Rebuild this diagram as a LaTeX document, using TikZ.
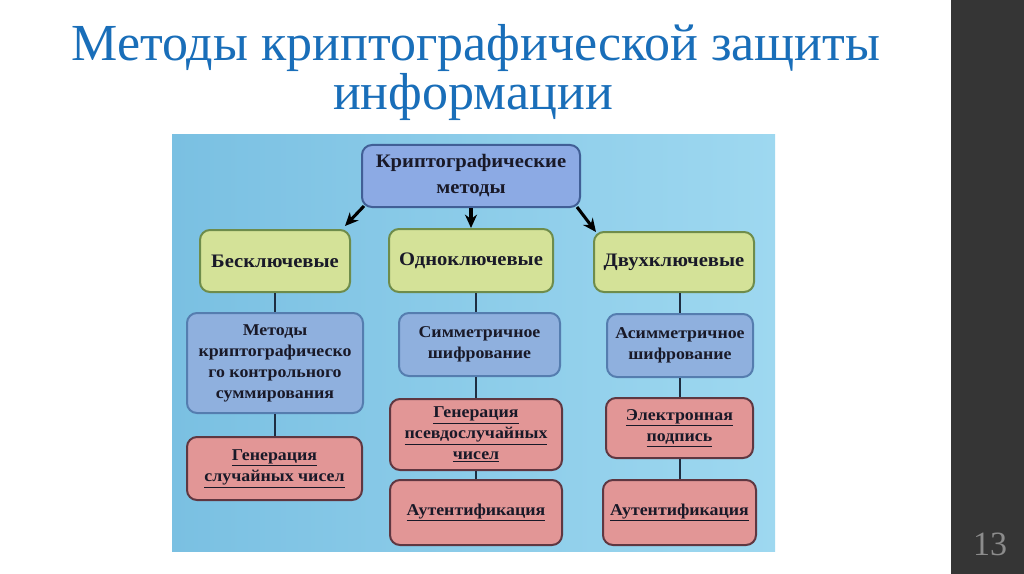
\documentclass[tikz,border=0pt]{standalone}
\usepackage{fontspec}
\setmainfont{Liberation Serif}
\newfontfamily\boxfont[FakeStretch=1.08]{Liberation Serif}
\usetikzlibrary{arrows.meta}
\definecolor{panelL}{RGB}{122,192,226}
\definecolor{panelR}{RGB}{158,216,240}
\definecolor{topfill}{RGB}{140,170,228}
\definecolor{topdraw}{RGB}{65,95,150}
\definecolor{greenfill}{RGB}{212,226,152}
\definecolor{greendraw}{RGB}{110,140,75}
\definecolor{bluefill}{RGB}{143,176,222}
\definecolor{bluedraw}{RGB}{85,125,175}
\definecolor{redfill}{RGB}{226,150,150}
\definecolor{reddraw}{RGB}{95,55,65}
\definecolor{textcol}{RGB}{25,25,40}
\definecolor{conncol}{RGB}{30,45,65}
\definecolor{titleblue}{RGB}{25,110,185}
\definecolor{barcol}{RGB}{53,53,53}
\definecolor{numgrey}{RGB}{140,140,140}
\begin{document}
\begin{tikzpicture}[x=0.75pt,y=-0.75pt,
  sz/.style 2 args={minimum width=#1*0.75pt, minimum height=#2*0.75pt},
  box/.style={draw, line width=1.5pt, rounded corners=7.5pt, inner sep=0pt,
    align=center, text=textcol},
  topbox/.style={box, fill=topfill, draw=topdraw,
    font={\boxfont\bfseries\fontsize{14.3pt}{19.5pt}\selectfont}},
  greenbox/.style={box, fill=greenfill, draw=greendraw,
    font={\boxfont\bfseries\fontsize{14.3pt}{19.5pt}\selectfont}},
  bluebox/.style={box, fill=bluefill, draw=bluedraw,
    font={\boxfont\bfseries\fontsize{12.4pt}{15.8pt}\selectfont}},
  redbox/.style={box, fill=redfill, draw=reddraw,
    font={\boxfont\bfseries\fontsize{12.4pt}{15.8pt}\selectfont}},
  conn/.style={draw=conncol, line width=1.8pt},
  arr/.style={draw=black, line width=2.3pt, -{Stealth[length=10pt,width=9pt]}},
  titletext/.style={text=titleblue, font={\fontsize{39pt}{45pt}\selectfont}, inner sep=0pt, anchor=base}
]
\useasboundingbox (0,0) rectangle (1024,574);
\fill[white] (0,0) rectangle (1024,574);
\fill[barcol] (951,0) rectangle (1024,574);
\node[text=numgrey, font={\fontsize{25.5pt}{30pt}\selectfont}, inner sep=0pt, anchor=base] (num) at (990,555) {13};

\node[titletext] (t1) at (476,61) {Методы криптографической защиты};
\node[titletext] (t2) at (473,110) {информации};

\shade[left color=panelL, right color=panelR] (172,135) rectangle (775,551);

\node[topbox, sz={218}{62}] (top) at (471,176) {Криптографические\\методы};

\node[greenbox, sz={150}{62}] (b1) at (275,261) {Бесключевые};
\node[greenbox, sz={164}{63}] (b2) at (471,260.5) {Одноключевые};
\node[greenbox, sz={160}{60}] (b3) at (674,262) {Двухключевые};

\node[bluebox, sz={176}{100}] (m1) at (275,363) {Методы\\криптографическо\\го контрольного\\суммирования};
\node[bluebox, sz={161}{63}] (m2) at (479.5,344.5) {Симметричное\\шифрование};
\node[bluebox, sz={146}{63}] (m3) at (680,345.5) {Асимметричное\\шифрование};

\node[redbox, sz={175}{63}] (r1) at (274.5,468.5) {\underline{Генерация}\\\underline{случайных чисел}};
\node[redbox, sz={172}{71}] (r2) at (476,434.5) {\underline{Генерация}\\\underline{псевдослучайных}\\\underline{чисел}};
\node[redbox, sz={147}{60}] (r3) at (679.5,428) {\underline{Электронная}\\\underline{подпись}};

\node[redbox, sz={172}{65}] (a2) at (476,512.5) {\underline{Аутентификация}};
\node[redbox, sz={153}{65}] (a3) at (679.5,512.5) {\underline{Аутентификация}};

% arrows from top
\draw[arr] ([shift={(3,-2)}]top.south west) -- ([shift={(-6,-3)}]b1.north east);
\draw[arr] (top.south) -- (b2.north);
\draw[arr] ([shift={(-4,-1)}]top.south east) -- ([shift={(3,1)}]b3.north west);

% connectors
\draw[conn] (b1.south) -- (m1.north);
\draw[conn] (m1.south) -- (m1.south |- r1.north);
\draw[conn] (b2.south -| r2.north) -- (m2.north -| r2.north);
\draw[conn] (m2.south -| r2.north) -- (r2.north);
\draw[conn] (r2.south) -- (a2.north);
\draw[conn] (b3.south -| m3.north) -- (m3.north);
\draw[conn] (m3.south) -- (r3.north -| m3.south);
\draw[conn] (r3.south -| m3.south) -- (a3.north -| m3.south);
\end{tikzpicture}
\end{document}
